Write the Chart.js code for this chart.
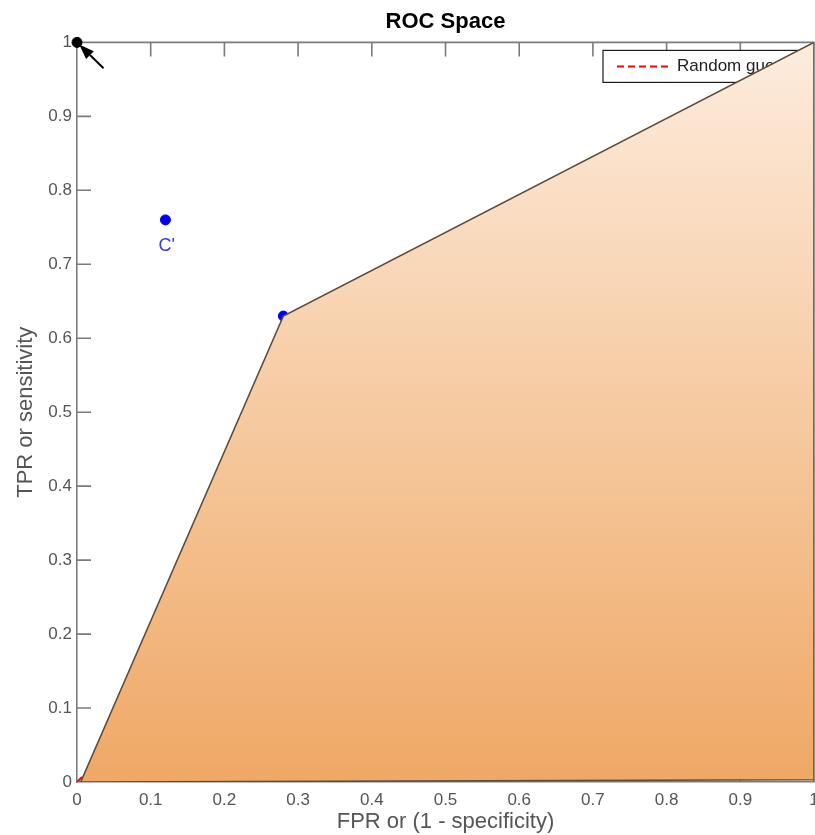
<!DOCTYPE html>
<html>
<head>
<meta charset="utf-8">
<title>ROC Space</title>
<script src="https://cdn.jsdelivr.net/npm/chart.js@4/dist/chart.umd.min.js"></script>
<style>
  html, body { margin: 0; padding: 0; background: #ffffff; overflow: hidden; width: 815px; height: 835px; }
  canvas { display: block; }
</style>
</head>
<body>
<canvas id="roc" width="820" height="835"></canvas>
<script>
// Axis ticks (both axes share the same 0..1 grid)
const axisTicks  = [0, 0.1, 0.2, 0.3, 0.4, 0.5, 0.6, 0.7, 0.8, 0.9, 1];
const tickLabels = ['0', '0.1', '0.2', '0.3', '0.4', '0.5', '0.6', '0.7', '0.8', '0.9', '1'];

// Chance diagonal
const guessFPR = [0, 1];
const guessTPR = [0, 1];

// ROC convex hull outline (closed polygon)
const hullFPR = [0.005, 0.28, 1, 1, 0.005];
const hullTPR = [0, 0.63, 1, 0.003, 0];

// Individual classifiers
const classifierFPR   = [0.12, 0.28];
const classifierTPR   = [0.76, 0.63];
const classifierNames = ["C'", ''];

// Perfect classification point and the arrow pointing at it
const perfectFPR = [0];
const perfectTPR = [1];
const arrowTail = [0.036, 0.965];
const arrowHead = [0.003, 0.997];

const FONT = '"Liberation Sans", Arial, Helvetica, sans-serif';
const AXIS_GREY = '#7b7b7b';
const TEXT_GREY = '#555555';

const toPoints = (xs, ys) => xs.map((v, i) => ({ x: v, y: ys[i] }));

function hullGradient(context) {
  const chart = context.chart;
  const { ctx, chartArea, scales } = chart;
  if (!chartArea || !scales.y) return '#f3c08c';
  const yTop = scales.y.getPixelForValue(1);
  const yBot = scales.y.getPixelForValue(0);
  const g = ctx.createLinearGradient(0, yTop, 0, yBot);
  g.addColorStop(0, 'rgb(253,236,221)');
  g.addColorStop(1, 'rgb(239,168,101)');
  return g;
}

// Box frame, inward tick marks and the legend (drawn beneath the data)
const frameAndLegend = {
  id: 'frameAndLegend',
  beforeDatasetsDraw(chart) {
    const { ctx, chartArea: a, scales: { x, y } } = chart;
    ctx.save();
    ctx.strokeStyle = AXIS_GREY;
    ctx.lineWidth = 1.6;
    ctx.beginPath();
    ctx.moveTo(a.left, a.top);
    ctx.lineTo(a.right, a.top);
    ctx.lineTo(a.right, a.bottom);
    ctx.stroke();

    const len = 14;
    ctx.beginPath();
    axisTicks.forEach(v => {
      if (v === 0 || v === 1) return;
      const px = x.getPixelForValue(v);
      const py = y.getPixelForValue(v);
      ctx.moveTo(px, a.top);    ctx.lineTo(px, a.top + len);
      ctx.moveTo(px, a.bottom); ctx.lineTo(px, a.bottom - len);
      ctx.moveTo(a.left, py);   ctx.lineTo(a.left + len, py);
      ctx.moveTo(a.right, py);  ctx.lineTo(a.right - len, py);
    });
    ctx.stroke();

    // legend box
    const guess = chart.data.datasets.find(d => d.label === 'Random guess');
    const bx = a.right - 211, by = a.top + 8, bw = 205, bh = 32;
    ctx.fillStyle = '#ffffff';
    ctx.fillRect(bx, by, bw, bh);
    ctx.strokeStyle = '#1a1a1a';
    ctx.lineWidth = 1.2;
    ctx.strokeRect(bx, by, bw, bh);
    ctx.strokeStyle = guess.borderColor;
    ctx.lineWidth = 2;
    ctx.setLineDash(guess.borderDash);
    ctx.beginPath();
    ctx.moveTo(bx + 14, by + 16);
    ctx.lineTo(bx + 68, by + 16);
    ctx.stroke();
    ctx.setLineDash([]);
    ctx.fillStyle = '#222222';
    ctx.font = '17px ' + FONT;
    ctx.textAlign = 'left';
    ctx.textBaseline = 'middle';
    ctx.fillText(guess.label, bx + 74, by + 16);
    ctx.restore();
  },
  afterDatasetsDraw(chart) {
    const { ctx, scales: { x, y } } = chart;
    ctx.save();
    // classifier names
    ctx.fillStyle = '#3b3bd6';
    ctx.font = '18px ' + FONT;
    ctx.textAlign = 'left';
    ctx.textBaseline = 'alphabetic';
    classifierNames.forEach((name, i) => {
      if (!name) return;
      ctx.fillText(name, x.getPixelForValue(classifierFPR[i]) - 7, y.getPixelForValue(classifierTPR[i]) + 31);
    });
    // arrow to the perfect classifier
    const tx = x.getPixelForValue(arrowTail[0]), ty = y.getPixelForValue(arrowTail[1]);
    const hx = x.getPixelForValue(arrowHead[0]), hy = y.getPixelForValue(arrowHead[1]);
    const ang = Math.atan2(hy - ty, hx - tx);
    const hl = 15, hw = 5.5;
    const bxp = hx - hl * Math.cos(ang), byp = hy - hl * Math.sin(ang);
    ctx.strokeStyle = '#000';
    ctx.lineWidth = 2;
    ctx.beginPath();
    ctx.moveTo(tx, ty);
    ctx.lineTo(bxp, byp);
    ctx.stroke();
    ctx.fillStyle = '#000';
    ctx.beginPath();
    ctx.moveTo(hx, hy);
    ctx.lineTo(bxp + hw * Math.sin(ang), byp - hw * Math.cos(ang));
    ctx.lineTo(bxp - hw * Math.sin(ang), byp + hw * Math.cos(ang));
    ctx.closePath();
    ctx.fill();
    ctx.restore();
  }
};

function fixedTicks(scale) {
  scale.ticks = axisTicks.map(v => ({ value: v }));
}

new Chart(document.getElementById('roc'), {
  type: 'scatter',
  data: {
    datasets: [
      {
        label: 'Perfect classification',
        data: toPoints(perfectFPR, perfectTPR),
        pointRadius: 5,
        pointBackgroundColor: '#000',
        pointBorderColor: '#000',
        clip: false,
        order: 0
      },
      {
        label: 'ROC convex hull',
        data: toPoints(hullFPR, hullTPR),
        showLine: true,
        fill: 'shape',
        tension: 0,
        pointRadius: 0,
        borderColor: '#5a4d3c',
        borderWidth: 1.6,
        backgroundColor: hullGradient,
        order: 2
      },
      {
        label: 'Classifiers',
        data: toPoints(classifierFPR, classifierTPR),
        pointRadius: 5,
        pointBackgroundColor: '#0000ee',
        pointBorderColor: '#0000ee',
        order: 3
      },
      {
        label: 'Random guess',
        data: toPoints(guessFPR, guessTPR),
        showLine: true,
        pointRadius: 0,
        borderColor: '#ff0000',
        borderWidth: 2,
        borderDash: [7, 4],
        order: 4
      }
    ]
  },
  options: {
    responsive: false,
    devicePixelRatio: 1,
    animation: false,
    events: [],
    layout: { padding: 0 },
    plugins: {
      legend: { display: false },
      tooltip: { enabled: false },
      title: {
        display: true,
        fullSize: false,
        text: 'ROC Space',
        color: '#000',
        font: { family: FONT, size: 22, weight: 'bold' },
        padding: { top: 9, bottom: 7 }
      }
    },
    scales: {
      x: {
        type: 'linear',
        min: 0, max: 1,
        afterBuildTicks: fixedTicks,
        afterFit(scale) {
          scale.height = 53;
          scale.paddingLeft = 0;
          scale.paddingRight = 0;
        },
        grid: { drawOnChartArea: false, drawTicks: false },
        border: { display: true, color: AXIS_GREY, width: 1.6 },
        ticks: {
          padding: 8,
          maxRotation: 0,
          autoSkip: false,
          color: TEXT_GREY,
          font: { family: FONT, size: 17 },
          callback: (v, i) => tickLabels[i]
        },
        title: {
          display: true,
          text: 'FPR or (1 - specificity)',
          color: TEXT_GREY,
          font: { family: FONT, size: 22 },
          padding: { top: 0, bottom: 0 }
        }
      },
      y: {
        type: 'linear',
        min: 0, max: 1,
        afterBuildTicks: fixedTicks,
        afterFit(scale) {
          scale.width = 77;
          scale.paddingTop = 0;
          scale.paddingBottom = 0;
        },
        grid: { drawOnChartArea: false, drawTicks: false },
        border: { display: true, color: AXIS_GREY, width: 1.6 },
        ticks: {
          padding: 5,
          autoSkip: false,
          color: TEXT_GREY,
          font: { family: FONT, size: 17 },
          callback: (v, i) => tickLabels[i]
        },
        title: {
          display: true,
          text: 'TPR or sensitivity',
          color: TEXT_GREY,
          font: { family: FONT, size: 22 },
          padding: { top: 13, bottom: 0 }
        }
      }
    }
  },
  plugins: [frameAndLegend]
});
</script>
</body>
</html>
